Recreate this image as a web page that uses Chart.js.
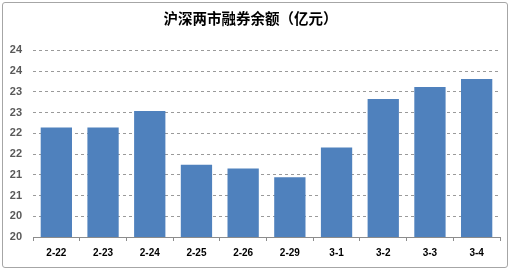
<!DOCTYPE html>
<html>
<head>
<meta charset="utf-8">
<script src="https://cdn.jsdelivr.net/npm/chart.js@4"></script>
<style>
  html, body { margin: 0; padding: 0; background: #fff; }
  .wrap { position: relative; width: 511px; height: 271px; }
  .frame { position: absolute; left: 2px; top: 2px; width: 504px; height: 264px; border: 1px solid #a6a6a6; border-radius: 3px; }
  canvas { position: absolute; left: 0; top: 0; }
</style>
</head>
<body>
<div class="wrap">
  <div class="frame"></div>
  <canvas id="chart" width="511" height="271"></canvas>
</div>
<script>
const titleText = '沪深两市融券余额（亿元）';
const categories = ['2-22', '2-23', '2-24', '2-25', '2-26', '2-29', '3-1', '3-2', '3-3', '3-4'];
const balance = [22.64, 22.64, 23.04, 21.74, 21.65, 21.44, 22.16, 23.33, 23.62, 23.81];
const yMin = 20;
const yMax = 24.5;
const yStep = 0.5;

const ctx = document.getElementById('chart').getContext('2d');
new Chart(ctx, {
  type: 'bar',
  data: {
    labels: categories,
    datasets: [{
      label: '融券余额',
      data: balance,
      backgroundColor: '#4f81bd',
      borderWidth: 0,
      barPercentage: 0.67,
      categoryPercentage: 1
    }]
  },
  options: {
    responsive: false,
    animation: false,
    layout: { padding: { left: 1, right: 11, top: 0, bottom: 0 } },
    plugins: {
      legend: { display: false },
      tooltip: { enabled: false },
      title: {
        display: true,
        text: titleText,
        color: '#000',
        font: { family: "'Noto Sans CJK SC', sans-serif", size: 14.5, weight: 'bold' },
        padding: { top: 10, bottom: 23 }
      }
    },
    scales: {
      x: {
        offset: true,
        grid: { drawOnChartArea: false, drawTicks: true, tickLength: 4, offset: true, color: '#8c8c8c' },
        border: { display: true, color: '#8c8c8c', width: 1 },
        ticks: {
          color: '#000',
          padding: 6,
          maxRotation: 0,
          font: { family: "'Liberation Sans', Arial, sans-serif", size: 10, weight: 'bold' }
        },
        afterFit: (scale) => { scale.height = 34; }
      },
      y: {
        min: yMin,
        max: yMax,
        grid: { color: '#9a9a9a', drawTicks: false, lineWidth: 1 },
        border: { display: false, dash: [3, 3] },
        ticks: {
          stepSize: yStep,
          padding: 11,
          color: '#595959',
          font: { family: "'Liberation Sans', Arial, sans-serif", size: 11, weight: 'bold' },
          callback: (v) => Math.floor(v)
        },
        afterFit: (scale) => { scale.width = 32; }
      }
    }
  }
});
</script>
</body>
</html>
